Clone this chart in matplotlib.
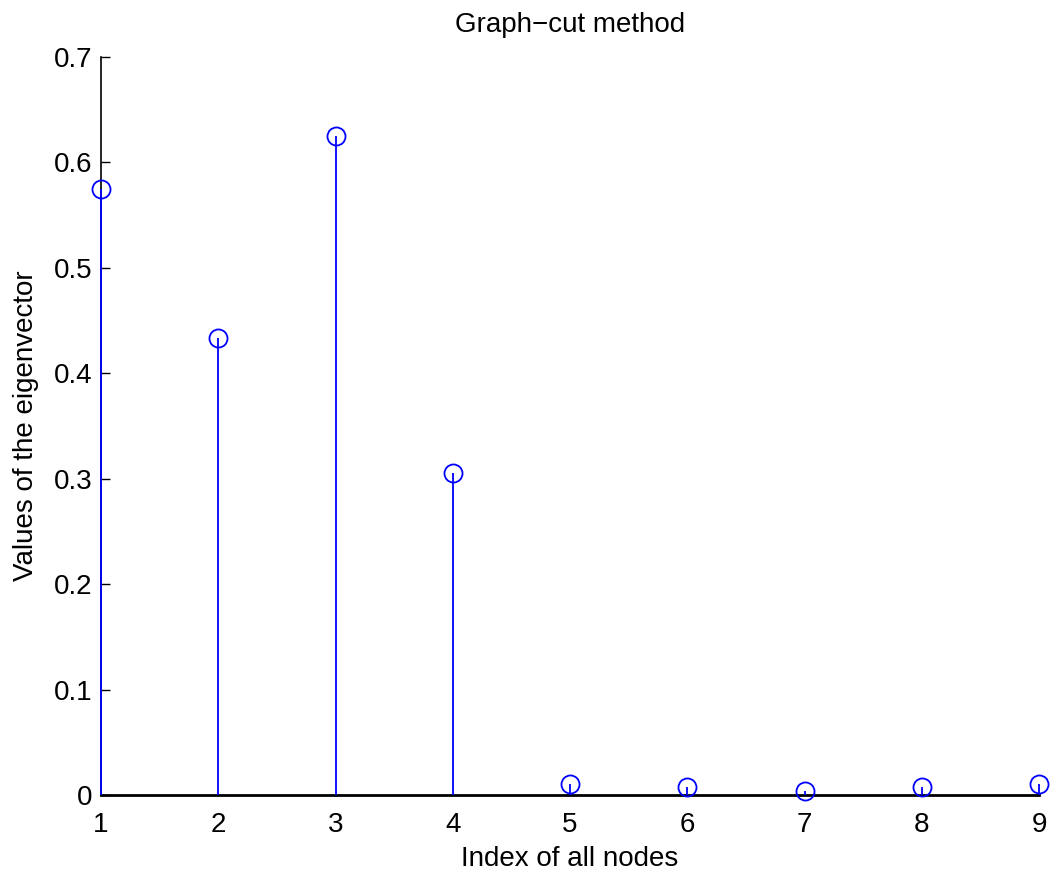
import numpy as np
import matplotlib.pyplot as plt

plt.rcParams['font.family'] = ['Liberation Sans', 'DejaVu Sans']

nodes = [1, 2, 3, 4, 5, 6, 7, 8, 9]
values = [0.575, 0.433, 0.625, 0.305, 0.010, 0.008, 0.004, 0.008, 0.010]
ytick_vals = [0, 0.1, 0.2, 0.3, 0.4, 0.5, 0.6, 0.7]
ytick_labels = ['0', '0.1', '0.2', '0.3', '0.4', '0.5', '0.6', '0.7']

fig = plt.figure(figsize=(10.52, 8.75), dpi=100)
ax = fig.add_axes([0.096, 0.0914, 0.8917, 0.8435])

markerline, stemlines, baseline = ax.stem(nodes, values, basefmt='k-')
plt.setp(stemlines, color='blue', linewidth=1.3, zorder=4, clip_on=False)
plt.setp(markerline, color='blue', marker='o', markersize=13,
         markerfacecolor='none', markeredgewidth=1.3, zorder=5, clip_on=False)
plt.setp(baseline, color='black', linewidth=2, zorder=3, clip_on=False)

ax.set_xlim(1, 9)
ax.set_ylim(0, 0.7)
ax.set_xticks(nodes)
ax.set_yticks(ytick_vals)
ax.set_yticklabels(ytick_labels)
ax.tick_params(axis='y', direction='in', length=6.5, width=1, labelsize=20, pad=6)
ax.tick_params(axis='x', length=0, labelsize=20, pad=12)
for s in ['top', 'right', 'bottom']:
    ax.spines[s].set_visible(False)
ax.spines['left'].set_linewidth(1.2)
ax.spines['left'].set_zorder(1)

ax.set_xlabel('Index of all nodes', fontsize=20, labelpad=6)
ax.set_ylabel('Values of the eigenvector', fontsize=20, labelpad=11)
ax.set_title('Graph\u2212cut method', fontsize=20, pad=18)

fig.savefig('out.png', dpi=100)
